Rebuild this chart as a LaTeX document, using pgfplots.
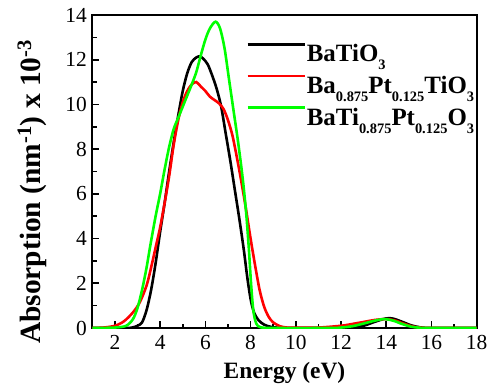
\documentclass[border=0pt]{standalone}
\usepackage{fontspec}
\setmainfont{Liberation Serif}
\usepackage{pgfplots}
\pgfplotsset{compat=1.18}
\definecolor{lgreen}{rgb}{0,1,0}
\definecolor{lred}{rgb}{1,0,0}
\newcommand{\sub}[1]{\raisebox{-8bp}{\fontsize{14.5}{14.5}\selectfont\bfseries #1}}
\begin{document}
\begin{tikzpicture}
\begin{axis}[
  scale only axis,
  width=384.4bp, height=313bp,
  xmin=1, xmax=18, ymin=0, ymax=14,
  xtick={2,4,...,18}, ytick={0,2,...,14},
  minor xtick={1,3,...,17}, minor ytick={1,3,...,13},
  tick pos=left, tick align=inside,
  major tick length=6.5bp, minor tick length=4.5bp,
  every tick/.style={black, line width=1.6bp},
  axis line style={line width=2bp},
  /pgf/number format/assume math mode=true,
  ticklabel style={font=\fontsize{21.5}{21.5}\selectfont},
  xticklabel style={yshift=-4bp},
  yticklabel style={xshift=-2bp},
  xlabel={\textbf{Energy (eV)}},
  ylabel={\textbf{Absorption (nm\textsuperscript{-1}) x 10\textsuperscript{-3}}},
  xlabel style={font=\fontsize{23.5}{23.5}\selectfont, at={(axis description cs:0.5,-0.144)}, anchor=center},
  ylabel style={font=\fontsize{29.5}{29.5}\selectfont, at={(axis description cs:-0.157,0.435)}, anchor=center},
  legend cell align=left,
  legend image code/.code={\draw[#1, line width=2.6bp] (0bp,15bp) -- (57bp,15bp);},
  legend style={draw=none, fill=none, inner sep=0pt, row sep=0.9bp,
    at={(axis description cs:0.4,0.911)}, anchor=north west,
    font=\fontsize{25}{25}\selectfont\bfseries,
    nodes={text height=16bp, text depth=11bp, inner sep=1bp}},
  every axis plot/.append style={line width=2.6bp, smooth},
]
\addplot[black] coordinates {
(1,0) (2.5,0) (2.8,0.03) (3.0,0.1) (3.2,0.25) (3.4,0.8) (3.6,1.7) (3.8,2.9) (4.0,4.3) (4.2,5.6) (4.4,7.0) (4.6,8.3) (4.8,9.5) (5.0,10.6) (5.2,11.4) (5.4,11.9) (5.6,12.1) (5.75,12.15) (5.9,12.05) (6.1,11.8) (6.3,11.3) (6.5,10.7) (6.7,9.9) (6.9,8.7) (7.1,7.5) (7.3,6.2) (7.5,4.9) (7.7,3.5) (7.85,2.3) (8.0,1.3) (8.15,0.7) (8.35,0.35) (8.6,0.15) (8.9,0.05) (9.3,0.01) (10,0) (12,0) (12.5,0.02) (13,0.1) (13.5,0.28) (14,0.43) (14.3,0.42) (14.7,0.28) (15.1,0.12) (15.5,0.03) (16,0) (18,0)
};
\addlegendentry{BaTiO\sub{3}}
\addplot[lred] coordinates {
(1,0) (1.5,0.02) (2.0,0.1) (2.4,0.3) (2.8,0.7) (3.1,1.15) (3.4,1.9) (3.6,2.7) (3.8,3.6) (4.0,4.5) (4.2,5.6) (4.4,6.8) (4.6,8.2) (4.8,9.3) (5.0,10.1) (5.2,10.6) (5.4,10.9) (5.6,11.0) (5.8,10.8) (6.0,10.6) (6.2,10.35) (6.4,10.2) (6.6,10.05) (6.8,9.8) (7.0,9.3) (7.2,8.6) (7.4,7.6) (7.6,6.5) (7.8,5.3) (8.0,4.0) (8.2,2.8) (8.4,1.7) (8.6,0.95) (8.8,0.5) (9.0,0.25) (9.3,0.08) (9.6,0.02) (10,0.01) (11,0.02) (12,0.1) (12.5,0.18) (13,0.27) (13.5,0.36) (14,0.4) (14.4,0.33) (14.8,0.18) (15.2,0.06) (15.6,0.01) (16,0) (18,0)
};
\addlegendentry{Ba\sub{0.875}Pt\sub{0.125}TiO\sub{3}}
\addplot[lgreen] coordinates {
(1,0) (2.0,0.02) (2.5,0.1) (2.8,0.4) (3.0,0.9) (3.2,1.7) (3.4,2.7) (3.55,3.6) (3.8,5.0) (4.0,6.0) (4.2,7.1) (4.4,8.1) (4.6,8.9) (4.8,9.4) (5.0,9.9) (5.2,10.4) (5.4,10.9) (5.6,11.45) (5.8,12.2) (6.0,12.9) (6.2,13.4) (6.45,13.7) (6.65,13.4) (6.85,12.5) (7.05,11.1) (7.25,9.7) (7.45,8.3) (7.65,6.7) (7.8,5.2) (7.92,3.6) (8.02,2.0) (8.12,0.8) (8.25,0.2) (8.45,0.03) (9,0) (11.5,0) (12,0.02) (12.5,0.08) (13,0.2) (13.5,0.33) (13.9,0.4) (14.3,0.33) (14.7,0.18) (15.1,0.06) (15.5,0.01) (16,0) (18,0)
};
\addlegendentry{BaTi\sub{0.875}Pt\sub{0.125}O\sub{3}}
\end{axis}
\pgfresetboundingbox
\path[use as bounding box] (current axis.south west) ++(-92.3bp,-61bp) rectangle ++(489bp,389bp);
\end{tikzpicture}
\end{document}
